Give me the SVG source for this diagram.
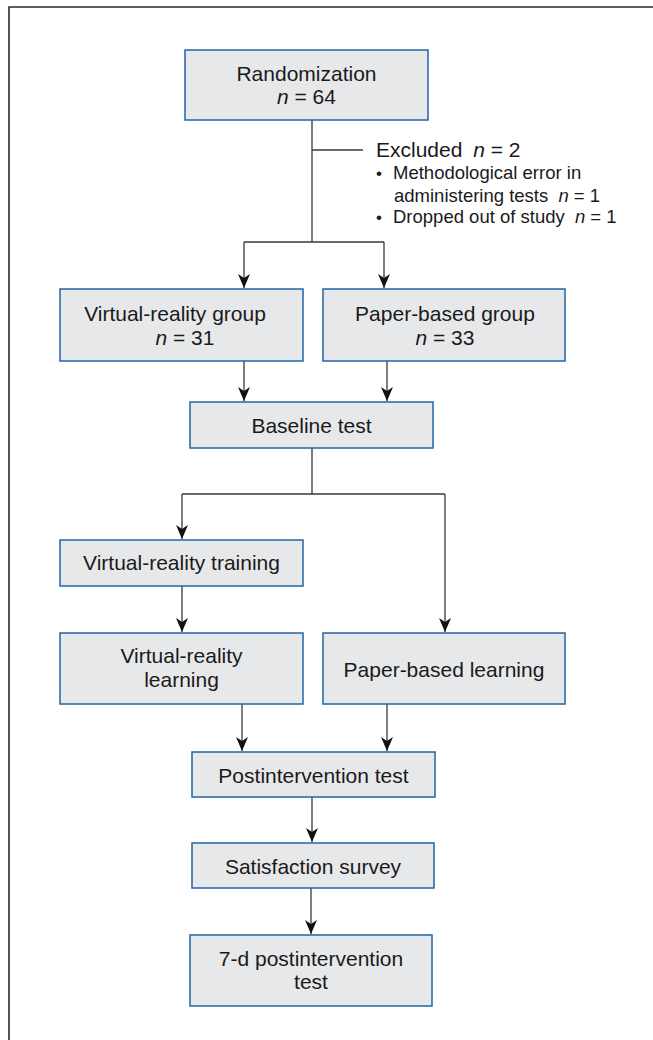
<svg xmlns="http://www.w3.org/2000/svg" width="653" height="1040" viewBox="0 0 653 1040">
<defs>
<style>
.box{fill:#e7e8ea;stroke:#2064a8;stroke-width:1.5}
.t{font-family:"Liberation Sans",Arial,sans-serif;font-size:21px;fill:#1a1a1a;text-anchor:middle}
.ex{font-family:"Liberation Sans",Arial,sans-serif;fill:#1a1a1a}
.ln{stroke:#3a3a3a;stroke-width:1.3;fill:none}
.ar{stroke:#3a3a3a;stroke-width:1.3;fill:none;marker-end:url(#ah)}
.i{font-style:italic}
</style>
<marker id="ah" markerUnits="userSpaceOnUse" markerWidth="14" markerHeight="12" viewBox="0 0 14 12" refX="14" refY="6" orient="auto">
<path d="M0,0 L14,6 L0,12 L4,6 z" fill="#111"/>
</marker>
</defs>
<path d="M9,1040 V7 H653" fill="none" stroke="#2a2a2a" stroke-width="1.6"/>
<g id="connectors">
<path class="ln" d="M312,120 V242 M312,150 H363 M244,242 H384"/>
<path class="ar" d="M244,242 V288"/>
<path class="ar" d="M384,242 V288"/>
<path class="ar" d="M244,361 V401"/>
<path class="ar" d="M387,361 V401"/>
<path class="ln" d="M312,448 V494 M182,494 H445"/>
<path class="ar" d="M182,494 V539"/>
<path class="ar" d="M445,494 V632"/>
<path class="ar" d="M182,586 V632"/>
<path class="ar" d="M242,704 V751"/>
<path class="ar" d="M387,704 V751"/>
<path class="ar" d="M312,797 V842"/>
<path class="ar" d="M311,888 V934"/>
</g>
<g id="randomization">
<rect class="box" x="185" y="50" width="243" height="70"/>
<text class="t" x="306.5" y="81">Randomization</text>
<text class="t" x="306.5" y="104"><tspan class="i">n</tspan> = 64</text>
</g>
<g id="excluded">
<text class="ex" x="376" y="157" font-size="21">Excluded <tspan class="i" dx="5">n</tspan> = 2</text>
<text class="ex" x="376" y="179" font-size="17">•</text>
<text class="ex" x="393" y="179" font-size="18.5">Methodological error in</text>
<text class="ex" x="394" y="202" font-size="18.5">administering tests <tspan class="i" dx="5">n</tspan> = 1</text>
<text class="ex" x="376" y="223" font-size="17">•</text>
<text class="ex" x="393" y="223" font-size="18.5">Dropped out of study <tspan class="i" dx="5">n</tspan> = 1</text>
</g>
<g id="vr-group">
<rect class="box" x="60" y="289" width="243" height="72"/>
<text class="t" x="175" y="321">Virtual-reality group</text>
<text class="t" x="185" y="345"><tspan class="i">n</tspan> = 31</text>
</g>
<g id="paper-group">
<rect class="box" x="323" y="289" width="242" height="72"/>
<text class="t" x="445" y="321">Paper-based group</text>
<text class="t" x="445" y="345"><tspan class="i">n</tspan> = 33</text>
</g>
<g id="baseline-test">
<rect class="box" x="190" y="402" width="243" height="46"/>
<text class="t" x="311.5" y="433">Baseline test</text>
</g>
<g id="vr-training">
<rect class="box" x="60" y="540" width="243" height="46"/>
<text class="t" x="181.5" y="570">Virtual-reality training</text>
</g>
<g id="vr-learning">
<rect class="box" x="60" y="633" width="243" height="71"/>
<text class="t" x="181.5" y="663">Virtual-reality</text>
<text class="t" x="181.5" y="687">learning</text>
</g>
<g id="paper-learning">
<rect class="box" x="323" y="633" width="242" height="71"/>
<text class="t" x="444" y="677">Paper-based learning</text>
</g>
<g id="postintervention-test">
<rect class="box" x="192" y="752" width="243" height="45"/>
<text class="t" x="313.5" y="783">Postintervention test</text>
</g>
<g id="satisfaction-survey">
<rect class="box" x="192" y="843" width="242" height="45"/>
<text class="t" x="313" y="874">Satisfaction survey</text>
</g>
<g id="followup-test">
<rect class="box" x="190" y="935" width="242" height="71"/>
<text class="t" x="311" y="966">7-d postintervention</text>
<text class="t" x="311" y="989">test</text>
</g>
</svg>
